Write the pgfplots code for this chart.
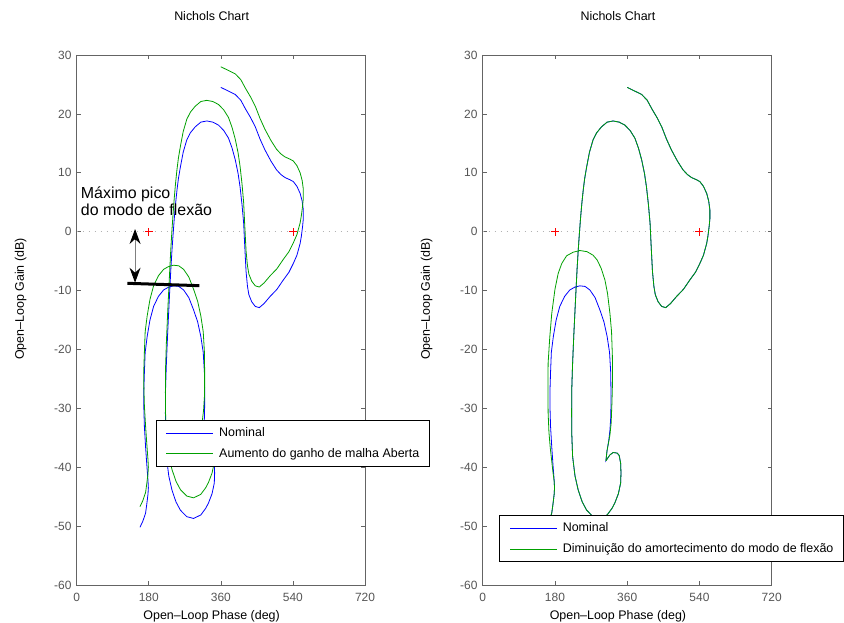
\documentclass[border=0pt]{standalone}
\usepackage{pgfplots}
\pgfplotsset{compat=1.18}
\usepackage{pgfplotstable}
\usepackage{fontspec}
\setmainfont{Liberation Sans}
\usetikzlibrary{arrows.meta}

\definecolor{axgray}{RGB}{100,100,100}
\definecolor{ticgray}{RGB}{85,85,85}
\definecolor{mgreen}{RGB}{0,160,0}
\definecolor{mblue}{RGB}{0,0,255}
\definecolor{mred}{RGB}{255,0,0}
\newcommand\lbl{\fontsize{12.5}{15}\selectfont}

% phase (deg), nominal gain (dB), increased open-loop gain (dB)
\pgfplotstableread{
ph nom gain
360 24.5 28.0
396 23.3 26.8
410 22.3 25.8
421 20.9 24.4
434 19.4 22.9
446 17.8 21.3
458 15.7 19.2
470 13.9 17.4
485 12.0 15.5
499 10.5 14.0
510 9.7 13.2
520 9.2 12.7
533 8.8 12.3
541 8.5 12.0
550 7.7 11.2
558 6.5 10.0
563 5.2 8.7
566 3.7 7.2
566 2.2 5.7
564 0.8 4.3
561 -0.8 2.7
558 -2.0 1.5
550 -4.0 -0.5
541 -5.4 -1.9
530 -6.9 -3.4
516 -8.2 -4.7
500 -9.8 -6.3
483 -11.0 -7.5
468 -12.2 -8.7
456 -12.9 -9.4
446 -12.7 -9.2
437 -11.9 -8.4
430 -10.7 -7.2
426.5 -9.3 -5.8
423 -6.8 -3.3
421 -4.2 -0.7
419 -1.5 2.0
417 1.4 4.9
413 4.5 8.0
408 7.6 11.1
403 9.9 13.4
396 12.2 15.7
388 14.2 17.7
379 15.9 19.4
367 17.2 20.7
354 18.1 21.6
340 18.6 22.1
325 18.8 22.3
310 18.6 22.1
296 17.8 21.3
284 16.8 20.3
275 15.6 19.1
266 13.5 17.0
259 11.0 14.5
254 9.0 12.5
250.5 7.1 10.6
247 4.8 8.3
244 2.5 6.0
241 -0.2 3.3
238 -3.1 0.4
235 -6.5 -3.0
232 -10.5 -7.0
229.5 -14.0 -10.5
227 -17.5 -14.0
224 -22.3 -18.8
222 -26.5 -23.0
221.5 -30.8 -27.3
222 -34.5 -31.0
224 -38.2 -34.7
230 -41.5 -38.0
238 -43.9 -40.4
248 -45.9 -42.4
259 -47.3 -43.8
275 -48.4 -44.9
292 -48.7 -45.2
310 -48.1 -44.6
322 -47.0 -43.5
329 -46.1 -42.6
338 -44.5 -41.0
343.6 -42.7 -39.2
344.5 -41.0 -37.5
343.6 -39.3 -35.8
340 -38.0 -34.5
335 -37.6 -34.1
325 -37.5 -34.0
317 -37.9 -34.4
307 -38.9 -35.4
310 -37.1 -33.6
314 -35.5 -32.0
317 -33.7 -30.2
319 -31.5 -28.0
319.5 -29.7 -26.2
319.5 -27.0 -23.5
319 -24.0 -20.5
316 -20.5 -17.0
310 -17.8 -14.3
302 -15.3 -11.8
292 -13.3 -9.8
280 -11.2 -7.7
267 -9.9 -6.4
255 -9.3 -5.8
242 -9.2 -5.7
230 -9.4 -5.9
217 -9.9 -6.4
204 -11.0 -7.5
192 -12.7 -9.2
183 -15.0 -11.5
176 -17.8 -14.3
171 -20.5 -17.0
169 -24.0 -20.5
167.6 -27.0 -23.5
167.6 -29.7 -26.2
169 -33.0 -29.5
172 -36.5 -33.0
175 -39.5 -36.0
178 -42.2 -38.7
179 -43.5 -40.0
178 -44.6 -41.1
175 -46.3 -42.8
172 -47.8 -44.3
165 -49.2 -45.7
158 -50.2 -46.7
}\nomtab

% reduced damping of the bending mode: part that differs from nominal
\pgfplotstableread{
ph db
307 -38.9
309.5 -37.3
313 -36.0
317 -34.5
320 -32.5
322 -29.0
323.6 -25.0
323 -21.0
321 -17.0
317 -13.9
311 -10.5
304.5 -8.2
295 -6.2
285 -4.8
275 -4.0
260 -3.4
242 -3.2
225 -3.5
209 -4.1
197 -5.4
188 -7.1
180 -9.8
172 -13.9
167 -18.0
163 -22.3
162.5 -26.5
163 -30.8
165 -34.0
168 -36.5
172 -39.0
175 -40.8
178 -42.4
179 -43.5
178 -44.6
175 -46.3
172 -47.8
165 -49.2
158 -50.2
}\rgtab

% critical points (180 and 540 deg, 0 dB) drawn as red "+" strokes
\pgfplotstableread{
ph db
170 0
190 0
180 nan
180 -0.68
180 0.68
530 nan
530 0
550 0
540 nan
540 -0.68
540 0.68
}\crittab

\pgfplotsset{
  crit/.style={forget plot, draw=mred, line width=0.6bp, unbounded coords=jump},
  zeroline/.style={forget plot, draw=gray!60, dash pattern=on 1bp off 5bp, line width=0.6bp},
  nich/.style={
    scale only axis, height=530bp, anchor=south west,
    xmin=0, xmax=720, ymin=-60, ymax=30,
    xtick={0,180,360,540,720},
    ytick={-60,-50,-40,-30,-20,-10,0,10,20,30},
    axis line style={draw=axgray, line width=0.7bp},
    major tick length=4bp,
    every tick/.style={draw=axgray, line width=0.7bp},
    tick label style={font=\fontsize{12}{14}\selectfont, text=ticgray},
    /pgf/number format/assume math mode=true,
    xticklabel style={anchor=base, inner sep=0pt, yshift=-16.7bp},
    yticklabel style={anchor=east, inner sep=0pt, xshift=-5bp},
    every axis title/.style={at={(axis description cs:0.468,1)}, anchor=base, yshift=34.3bp, font=\lbl},
    every axis x label/.style={at={(axis description cs:0.468,0)}, anchor=base, yshift=-34.3bp, font=\lbl},
    every axis y label/.style={at={(axis description cs:-0.1828,0.5396)}, anchor=base, rotate=90, font=\lbl},
    title={Nichols Chart},
    xlabel={Open--Loop Phase (deg)},
    ylabel={Open--Loop Gain (dB)},
    legend cell align=left,
    legend image code/.code={\draw[##1] plot coordinates {(0bp,0bp) (23bp,0bp) (46.7bp,0bp)};},
    legend style={draw=black, line width=0.8bp, fill=white, font=\lbl,
      inner xsep=10bp, inner ysep=6.5bp, row sep=8.4bp, column sep=5.6bp,
      nodes={inner sep=0pt, text height=9.5bp, text depth=2.7bp}},
  }
}

\begin{document}
\begin{tikzpicture}
% ---------------- left axis ----------------
\begin{axis}[nich, at={(76.7bp,38bp)}, width=288.3bp,
  legend style={at={(axis description cs:0.274,0.3113)}, anchor=north west}]
  \addplot[zeroline] coordinates {(0,0) (720,0)};
  \addplot[crit] table[x=ph, y=db] {\crittab};
  \addplot[draw=mblue, line width=0.8bp] table[x=ph, y=nom] {\nomtab};
  \addplot[draw=mgreen, line width=0.8bp] table[x=ph, y=gain] {\nomtab};
  \coordinate (bar1) at (axis cs:126.5,-8.77);
  \coordinate (bar2) at (axis cs:306.5,-9.17);
  \coordinate (arT) at (axis cs:145.75,0.45);
  \coordinate (arB) at (axis cs:145.75,-8.67);
  \coordinate (tx1) at (axis cs:10,5.67);
  \coordinate (tx2) at (axis cs:10,2.71);
  \legend{Nominal, Aumento do ganho de malha Aberta}
\end{axis}
\draw[line width=3bp, draw=black] (bar1) -- (bar2);
\draw[draw=gray, line width=1bp] ([yshift=-8bp]arT) -- ([yshift=8bp]arB);
\draw[draw=black, fill=black, line width=1bp, -{Stealth[length=15bp,width=11bp,inset=5bp]}]
  ([yshift=10bp]arB) -- (arB);
\draw[draw=black, fill=black, line width=1bp, -{Stealth[length=15bp,width=11bp,inset=5bp]}]
  ([yshift=-10bp]arT) -- (arT);
\node[anchor=base west, inner sep=0pt, font=\fontsize{16}{19}\selectfont] at (tx1) {Máximo pico};
\node[anchor=base west, inner sep=0pt, font=\fontsize{16}{19}\selectfont] at (tx2) {do modo de flexão};
% ---------------- right axis ----------------
\begin{axis}[nich, at={(482.7bp,38bp)}, width=289bp,
  legend style={at={(axis description cs:0.0574,0.1315)}, anchor=north west}]
  \addplot[zeroline] coordinates {(0,0) (720,0)};
  \addplot[crit] table[x=ph, y=db] {\crittab};
  \addplot[draw=mblue, line width=0.8bp] table[x=ph, y=nom] {\nomtab};
  \addplot[draw=mgreen, line width=0.8bp] table[x=ph, y=db] {\rgtab};
  \addplot[forget plot, draw=mgreen, line width=0.8bp, skip coords between index={87}{200}] table[x=ph, y=nom] {\nomtab};
  \legend{Nominal, Diminuição do amortecimento do modo de flexão}
\end{axis}
\pgfresetboundingbox
\path[use as bounding box] (0bp,0bp) rectangle (844bp,623bp);
\end{tikzpicture}
\end{document}
